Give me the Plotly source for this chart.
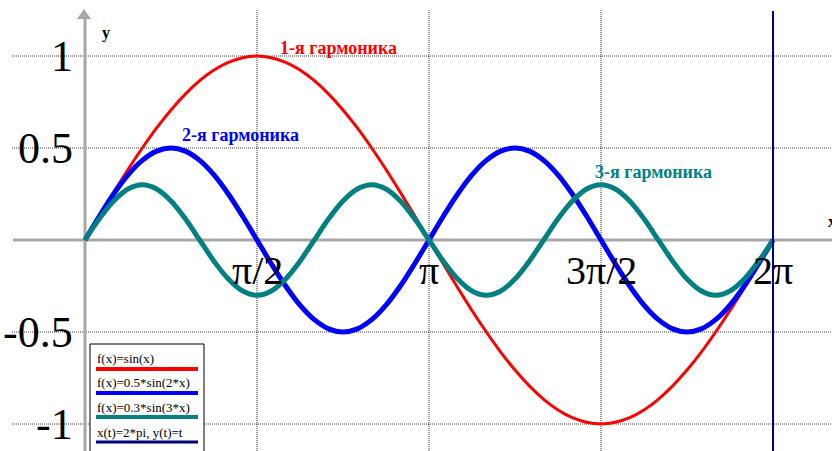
import numpy as np
import plotly.graph_objects as go

W, H = 832, 451

# sample points along x, every pi/24 from 0 to 2*pi
x_vals = np.linspace(0, 2 * np.pi, 49)

# f(x)=sin(x), values
h1_vals = [0, 0.131, 0.259, 0.383, 0.5, 0.609, 0.707, 0.793, 0.866, 0.924, 0.966, 0.991,
           1.0, 0.991, 0.966, 0.924, 0.866, 0.793, 0.707, 0.609, 0.5, 0.383, 0.259, 0.131,
           0, -0.131, -0.259, -0.383, -0.5, -0.609, -0.707, -0.793, -0.866, -0.924, -0.966, -0.991,
           -1.0, -0.991, -0.966, -0.924, -0.866, -0.793, -0.707, -0.609, -0.5, -0.383, -0.259, -0.131, 0]

# f(x)=0.5*sin(2*x), blue curve
h2_vals = [0, 0.129, 0.25, 0.354, 0.433, 0.483, 0.5, 0.483, 0.433, 0.354, 0.25, 0.129,
           0, -0.129, -0.25, -0.354, -0.433, -0.483, -0.5, -0.483, -0.433, -0.354, -0.25, -0.129,
           0, 0.129, 0.25, 0.354, 0.433, 0.483, 0.5, 0.483, 0.433, 0.354, 0.25, 0.129,
           0, -0.129, -0.25, -0.354, -0.433, -0.483, -0.5, -0.483, -0.433, -0.354, -0.25, -0.129, 0]

# f(x)=0.3*sin(3*x), teal curve
h3_vals = [0, 0.115, 0.212, 0.277, 0.3, 0.277, 0.212, 0.115,
           0, -0.115, -0.212, -0.277, -0.3, -0.277, -0.212, -0.115,
           0, 0.115, 0.212, 0.277, 0.3, 0.277, 0.212, 0.115,
           0, -0.115, -0.212, -0.277, -0.3, -0.277, -0.212, -0.115,
           0, 0.115, 0.212, 0.277, 0.3, 0.277, 0.212, 0.115,
           0, -0.115, -0.212, -0.277, -0.3, -0.277, -0.212, -0.115, 0]

# x(t)=2*pi, y(t)=t
vline_t = [-1.2, 1.245]

x_ticks = [np.pi / 2, np.pi, 3 * np.pi / 2, 2 * np.pi]
x_tick_text = ["π/2", "π", "3π/2", "2π"]
y_ticks = [1, 0.5, -0.5, -1]
y_tick_text = ["1", "0.5", "-0.5", "-1"]

legend_text = ["f(x)=sin(x)", "f(x)=0.5*sin(2*x)", "f(x)=0.3*sin(3*x)", "x(t)=2*pi, y(t)=t"]
colors = ["#ff0000", "#0000ff", "#008080", "#000080"]

SERIF = "Liberation Serif"
GRID = dict(color="#333333", width=1, dash="1px,1px")


def px(x):
    return x / W


def py(y):
    return 1 - y / H


fig = go.Figure()

widths = [3, 5, 5]
for vals, color, w in zip([h1_vals, h2_vals, h3_vals], colors, widths):
    fig.add_trace(go.Scatter(x=x_vals, y=vals, mode="lines",
                             line=dict(color=color, width=w, shape="spline"),
                             showlegend=False, hoverinfo="skip"))

fig.add_trace(go.Scatter(x=[2 * np.pi, 2 * np.pi], y=vline_t, mode="lines",
                         line=dict(color=colors[3], width=2),
                         showlegend=False, hoverinfo="skip"))

shapes = []
# dotted grid
for yv in y_ticks:
    shapes.append(dict(type="line", xref="paper", yref="y", x0=px(12), x1=1, y0=yv, y1=yv,
                       line=GRID, layer="below"))
for xv in x_ticks[:3]:
    shapes.append(dict(type="line", xref="x", yref="paper", x0=xv, x1=xv, y0=0, y1=py(10),
                       line=GRID, layer="below"))
# axes
shapes.append(dict(type="line", xref="paper", yref="y", x0=px(13), x1=1, y0=0, y1=0,
                   line=dict(color="#a8a8a8", width=3), layer="below"))
shapes.append(dict(type="line", xref="x", yref="paper", x0=0, x1=0, y0=0, y1=py(14),
                   line=dict(color="#a8a8a8", width=3), layer="below"))
shapes.append(dict(type="path", xref="paper", yref="paper",
                   path=f"M {px(84)} {py(9)} L {px(77)} {py(19)} L {px(91)} {py(19)} Z",
                   fillcolor="#a8a8a8", line=dict(width=0), layer="below"))

# legend box
shapes.append(dict(type="rect", xref="paper", yref="paper", x0=px(90), x1=px(204),
                   y0=py(452), y1=py(344), line=dict(color="black", width=1),
                   fillcolor="white", layer="above"))
line_y = [369, 393, 417, 442]
line_w = [4, 4, 4, 3]
for ly, c, lw in zip(line_y, colors, line_w):
    shapes.append(dict(type="line", xref="paper", yref="paper", x0=px(96), x1=px(198),
                       y0=py(ly), y1=py(ly), line=dict(color=c, width=lw), layer="above"))

annotations = []
for xv, t in zip(x_ticks, x_tick_text):
    annotations.append(dict(x=xv, y=py(270), xref="x", yref="paper", text=t, showarrow=False,
                            font=dict(family=SERIF, size=40, color="black"),
                            xanchor="center", yanchor="middle"))
for yv, t in zip(y_ticks, y_tick_text):
    annotations.append(dict(x=px(75), y=yv, xref="paper", yref="y", text=t, showarrow=False,
                            font=dict(family=SERIF, size=44, color="black"),
                            xanchor="right", yanchor="middle"))

annotations.append(dict(x=px(100), y=py(22), xref="paper", yref="paper", text="<b>y</b>",
                        showarrow=False, font=dict(family=SERIF, size=16, color="black")))
annotations.append(dict(x=px(826), y=py(222), xref="paper", yref="paper", text="<b>x</b>",
                        showarrow=False, xanchor="left",
                        font=dict(family=SERIF, size=16, color="black")))

harm = [("1-я гармоника", 278, 48, colors[0]),
        ("2-я гармоника", 180, 135, colors[1]),
        ("3-я гармоника", 593, 172, colors[2])]
for t, hx, hy, c in harm:
    annotations.append(dict(x=px(hx), y=py(hy), xref="paper", yref="paper", text=f"<b>{t}</b>",
                            showarrow=False, xanchor="left", yanchor="middle",
                            font=dict(family=SERIF, size=18, color=c)))

text_y = [358, 382, 407, 432]
for ty, t in zip(text_y, legend_text):
    annotations.append(dict(x=px(95), y=py(ty), xref="paper", yref="paper", text=t,
                            showarrow=False, xanchor="left", yanchor="middle",
                            font=dict(family=SERIF, size=13, color="black")))

fig.update_layout(
    width=W, height=H, autosize=False,
    margin=dict(l=0, r=0, t=0, b=0),
    paper_bgcolor="white", plot_bgcolor="white",
    xaxis=dict(range=[-85 / 109.5, (W - 85) / 109.5], visible=False),
    yaxis=dict(range=[-(H - 240) / 184, 240 / 184], visible=False),
    shapes=shapes, annotations=annotations,
)

# drop the default page margin so the figure sits at the window's corner
fig.write_html("out.html", config={"displayModeBar": False},
               post_script="document.body.style.margin='0';")
